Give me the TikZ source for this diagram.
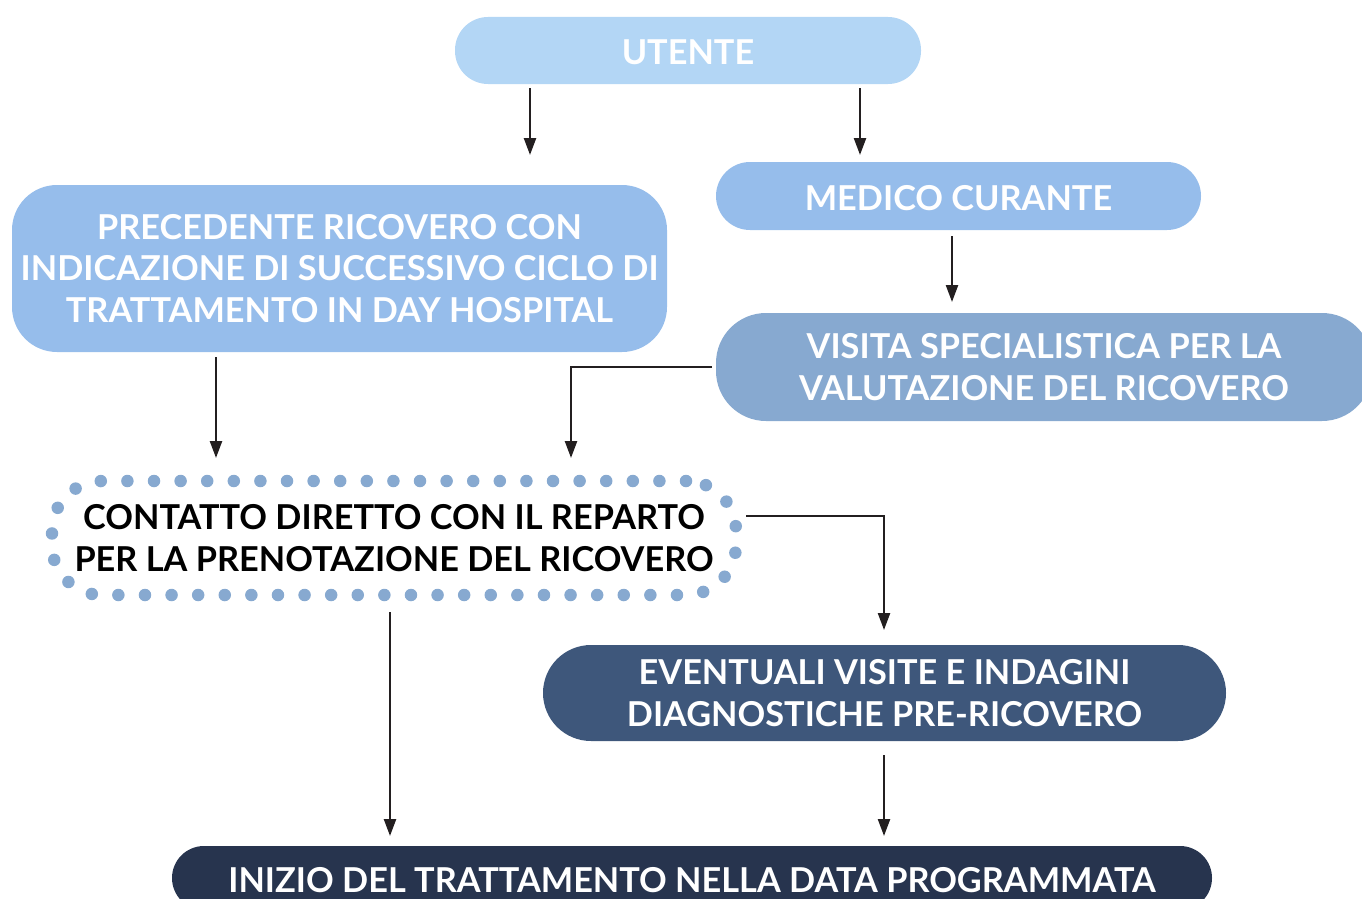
\documentclass[tikz,border=0pt]{standalone}
\usepackage{fontspec}
\setmainfont{Lato}
\usetikzlibrary{arrows.meta}
\definecolor{c1}{HTML}{B3D6F5}
\definecolor{c2}{HTML}{96BDEB}
\definecolor{c3}{HTML}{87A9D0}
\definecolor{c4}{HTML}{3E577B}
\definecolor{c5}{HTML}{27344E}
\definecolor{ln}{HTML}{231F20}
\begin{document}
\begin{tikzpicture}[x=1pt,y=-1pt,
  box/.style={rectangle, inner sep=0pt, outer sep=0pt, text=white, align=center,
    font=\fontsize{34.3}{41.5}\selectfont\bfseries,
    execute at begin node={\rule{0pt}{29pt}}},
  arr/.style={draw=ln, line width=2.4pt, -{Triangle[width=12pt,length=17pt]}}]
\useasboundingbox (0,0) rectangle (1362,899);
\node[box, fill=c1, rounded corners=33, minimum width=466, minimum height=67] (utente) at (688,50.5) {UTENTE};
\node[box, fill=c2, rounded corners=45, minimum width=655, minimum height=167] (prec) at (339.5,268.5) {PRECEDENTE RICOVERO CON\\INDICAZIONE DI SUCCESSIVO CICLO DI\\TRATTAMENTO IN DAY HOSPITAL};
\node[box, fill=c2, rounded corners=34, minimum width=485, minimum height=68] (medico) at (958.5,196) {MEDICO CURANTE};
\node[box, fill=c3, rounded corners=50, minimum width=656, minimum height=108] (visita) at (1044,367) {VISITA SPECIALISTICA PER LA\\VALUTAZIONE DEL RICOVERO};
\node[box, text=black, draw=c3, line width=12.5pt, dash pattern=on 0pt off 26.6pt, line cap=round, rounded corners=50, minimum width=684, minimum height=114] (contatto) at (394,538) {CONTATTO DIRETTO CON IL REPARTO\\PER LA PRENOTAZIONE DEL RICOVERO};
\node[box, fill=c4, rounded corners=48, minimum width=683, minimum height=96] (event) at (884.5,693) {EVENTUALI VISITE E INDAGINI\\DIAGNOSTICHE PRE-RICOVERO};
\node[box, fill=c5, rounded corners=32, minimum width=1040, minimum height=64] (inizio) at (692,878) {INIZIO DEL TRATTAMENTO NELLA DATA PROGRAMMATA};
\coordinate (xa) at (530,0);
\coordinate (xb) at (860,0);
\coordinate (xc) at (952,0);
\coordinate (xd) at (216,0);
\coordinate (xe) at (571,0);
\coordinate (xf) at (390,0);
\coordinate (xg) at (884,0);
\coordinate (ya) at (0,516);
\draw[arr, shorten <=4pt, shorten >=30pt] (utente.south -| xa) -- (prec.north -| xa);
\draw[arr, shorten <=4pt, shorten >=7pt] (utente.south -| xb) -- (medico.north -| xb);
\draw[arr, shorten <=6pt, shorten >=11pt] (medico.south -| xc) -- (visita.north -| xc);
\draw[arr, shorten <=5pt, shorten >=23pt] (prec.south -| xd) -- (contatto.north -| xd);
\draw[arr, shorten <=4pt, shorten >=23pt] (visita.west) -| (contatto.north -| xe);
\draw[arr, shorten <=10pt, shorten >=15pt] (contatto.east |- ya) -| (event.north -| xg);
\draw[arr, shorten <=17pt, shorten >=10pt] (contatto.south -| xf) -- (inizio.north -| xf);
\draw[arr, shorten <=14pt, shorten >=10pt] (event.south -| xg) -- (inizio.north -| xg);
\end{tikzpicture}
\end{document}
